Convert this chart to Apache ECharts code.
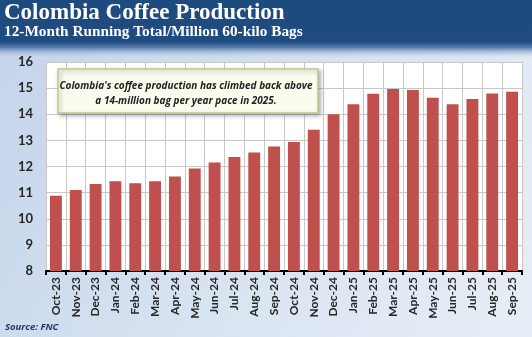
<!DOCTYPE html>
<html>
<head>
<meta charset="utf-8">
<script src="https://cdn.jsdelivr.net/npm/echarts@6/dist/echarts.min.js"></script>
<style>
  html, body { margin: 0; padding: 0; }
  #chart { width: 532px; height: 337px; }
</style>
</head>
<body>
<div id="chart"></div>
<script>
// Month labels (12-month running total ending in each month)
const months = ['Oct-23','Nov-23','Dec-23','Jan-24','Feb-24','Mar-24','Apr-24','May-24',
  'Jun-24','Jul-24','Aug-24','Sep-24','Oct-24','Nov-24','Dec-24','Jan-25','Feb-25',
  'Mar-25','Apr-25','May-25','Jun-25','Jul-25','Aug-25','Sep-25'];

// Production, million 60-kilo bags
const production = [10.88, 11.1, 11.33, 11.44, 11.36, 11.44, 11.62, 11.92,
  12.15, 12.36, 12.54, 12.77, 12.94, 13.41, 14.0, 14.38, 14.78,
  14.97, 14.93, 14.63, 14.38, 14.58, 14.79, 14.86];

const titleText = 'Colombia Coffee Production';
const subtitleText = '12-Month Running Total/Million 60-kilo Bags';
const noteText = "Colombia's coffee production has climbed back above\na 14-million bag per year pace in 2025.";
const sourceText = 'Source: FNC';

const chart = echarts.init(document.getElementById('chart'), null, { renderer: 'canvas' });

chart.setOption({
  animation: false,
  backgroundColor: {
    type: 'linear', x: 0, y: 0, x2: 1, y2: 1,
    colorStops: [
      { offset: 0, color: '#c3d3ea' },
      { offset: 0.6, color: '#dae5f2' },
      { offset: 1, color: '#e8eef7' }
    ]
  },
  graphic: [
    // header band
    {
      type: 'rect', x: 0, y: 0, z: 0,
      shape: { width: 532, height: 58 },
      style: {
        fill: {
          type: 'linear', x: 0, y: 0, x2: 0, y2: 1,
          colorStops: [
            { offset: 0, color: '#1d4a7f' },
            { offset: 0.72, color: '#1f4b80' },
            { offset: 0.82, color: '#5a7eae' },
            { offset: 1, color: 'rgba(195,211,234,0)' }
          ]
        }
      }
    },
    {
      type: 'text', x: 4, y: 2, z: 5,
      style: { text: titleText, fill: '#ffffff', font: 'bold 23px "Liberation Serif"' }
    },
    {
      type: 'text', x: 4, y: 25, z: 5,
      style: { text: subtitleText, fill: '#ffffff', font: 'bold 15.3px "Liberation Serif"' }
    },
    // annotation box
    {
      type: 'rect', x: 58, y: 69, z: 20,
      shape: { width: 260, height: 44 },
      style: {
        fill: '#fbfbee', stroke: '#c2c78e', lineWidth: 1.5,
        shadowBlur: 4, shadowOffsetX: 2, shadowOffsetY: 2, shadowColor: 'rgba(0,0,0,0.3)'
      }
    },
    {
      type: 'text', x: 186, y: 94, z: 21,
      style: {
        text: noteText, fill: '#222222', align: 'center', verticalAlign: 'middle',
        font: 'italic bold 10px "Open Sans"', lineHeight: 15
      }
    },
    {
      type: 'text', x: 5, y: 322, z: 5,
      style: { text: sourceText, fill: '#1f3864', font: 'italic bold 9.5px "Open Sans"' }
    }
  ],
  grid: {
    left: 46, right: 10, top: 62, bottom: 66,
    show: true, backgroundColor: '#ffffff', borderWidth: 0
  },
  xAxis: {
    type: 'category',
    data: months,
    boundaryGap: true,
    axisLine: { show: true, lineStyle: { color: '#000000', width: 2 } },
    axisTick: { show: true, length: 4, lineStyle: { color: '#000000', width: 2 } },
    splitLine: { show: true, lineStyle: { color: '#c8c8c8', width: 1 } },
    axisLabel: {
      rotate: 90, interval: 0, margin: 6,
      color: '#262626', fontSize: 12, fontWeight: 'bold', fontFamily: 'Lato'
    }
  },
  yAxis: {
    type: 'value',
    min: 8, max: 16, interval: 1,
    axisLine: { show: false },
    axisTick: { show: false },
    splitLine: { show: true, lineStyle: { color: '#c8c8c8', width: 1 } },
    axisLabel: {
      margin: 13, color: '#262626', fontSize: 13, fontWeight: 'bold', fontFamily: 'Lato'
    }
  },
  series: [{
    type: 'bar',
    data: production,
    barCategoryGap: '40%',
    itemStyle: { color: '#c0504d' }
  }]
});
</script>
</body>
</html>
